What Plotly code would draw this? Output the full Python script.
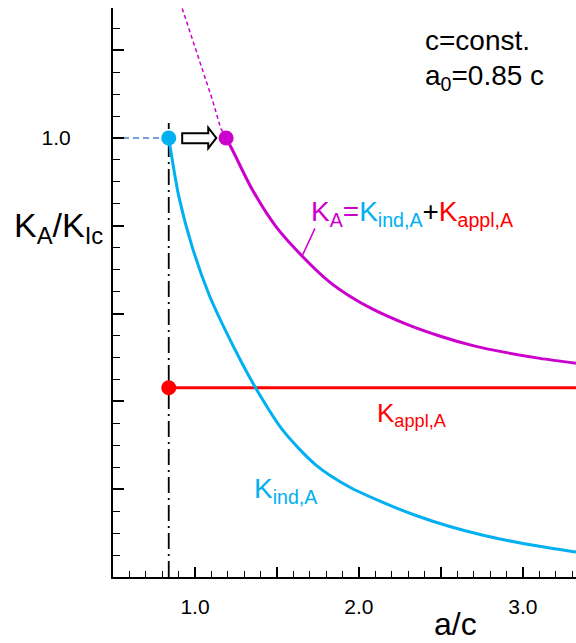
import plotly.graph_objects as go

# ---- data ----
a0 = 0.84
k_appl = 0.431

a_ind = [0.840, 0.902, 0.983, 1.086, 1.188, 1.280, 1.371, 1.534, 1.738, 1.942,
         2.146, 2.348, 2.554, 2.758, 2.962, 3.165, 3.324]
k_ind = [1.000, 0.866, 0.752, 0.643, 0.560, 0.492, 0.430, 0.335, 0.255, 0.205,
         0.170, 0.140, 0.115, 0.095, 0.079, 0.066, 0.057]

a_sum = [1.190, 1.228, 1.350, 1.494, 1.656, 1.820, 1.942, 2.084, 2.289,
         2.492, 2.696, 2.900, 3.104, 3.324]
k_sum = [1.000, 0.973, 0.882, 0.798, 0.730, 0.672, 0.640, 0.610, 0.576,
         0.549, 0.527, 0.511, 0.498, 0.487]

a_sum_ext = [0.922, 1.004, 1.106, 1.157, 1.190]
k_sum_ext = [1.295, 1.200, 1.087, 1.022, 1.000]

a_appl = [a0, 3.324]
k_appl_line = [k_appl, k_appl]

x_tickvals = [0.5, 1.0, 1.5, 2.0, 2.5, 3.0]
x_ticktext = ["", "1.0", "", "2.0", "", "3.0"]
y_tickvals = [0.0, 0.2, 0.4, 0.6, 0.8, 1.0, 1.2]
y_ticktext = ["", "", "", "", "", "1.0", ""]

BLUE = "#00b0f0"
MAG = "#cc00cc"
RED = "#ff0000"
FONT = "Liberation Sans, Arial, sans-serif"

fig = go.Figure()

# horizontal dashed guide at K=1
fig.add_trace(go.Scatter(x=[0.5, a0], y=[1.0, 1.0], mode="lines",
                         line=dict(color="#4f7fd0", width=1.5, dash="6px,4px"),
                         hoverinfo="skip", showlegend=False))
# vertical dash-dot line at a0
fig.add_trace(go.Scatter(x=[a0, a0], y=[0, 1.034], mode="lines",
                         line=dict(color="black", width=1.8, dash="16px,5px,2px,5px"),
                         hoverinfo="skip", showlegend=False))
# dotted continuation of K_A
fig.add_trace(go.Scatter(x=a_sum_ext, y=k_sum_ext, mode="lines",
                         line=dict(color=MAG, width=1.5, dash="4px,3px"),
                         showlegend=False))
# K_appl,A
fig.add_trace(go.Scatter(x=a_appl, y=k_appl_line, mode="lines",
                         line=dict(color=RED, width=3), showlegend=False))
# K_ind,A
fig.add_trace(go.Scatter(x=a_ind, y=k_ind, mode="lines",
                         line=dict(color=BLUE, width=3, shape="spline", smoothing=0.8),
                         showlegend=False))
# K_A
fig.add_trace(go.Scatter(x=a_sum, y=k_sum, mode="lines",
                         line=dict(color=MAG, width=3, shape="spline", smoothing=0.8),
                         showlegend=False))
# points
fig.add_trace(go.Scatter(x=[a0], y=[k_appl], mode="markers",
                         marker=dict(color=RED, size=15), showlegend=False))
fig.add_trace(go.Scatter(x=[a0], y=[k_ind[0]], mode="markers",
                         marker=dict(color=BLUE, size=15), showlegend=False))
fig.add_trace(go.Scatter(x=[a_sum[0]], y=[k_sum[0]], mode="markers",
                         marker=dict(color=MAG, size=15), showlegend=False))

# hollow block arrow
arrow = ("M 0.922 1.0107 L 1.081 1.0107 L 1.081 1.0235 L 1.130 1.0 "
         "L 1.081 0.9765 L 1.081 0.988 L 0.922 0.988 Z")
fig.add_shape(type="path", path=arrow, xref="x", yref="y",
              line=dict(color="black", width=2), fillcolor="white")
# leader line for K_A label
fig.add_shape(type="line", x0=1.732, y0=0.794, x1=1.656, y1=0.733,
              xref="x", yref="y", line=dict(color=MAG, width=1.5))

ann = []
ann.append(dict(x=2.388, y=1.223, xref="x", yref="y", xanchor="left", yanchor="middle",
                text="c=const.", showarrow=False, font=dict(size=28, color="black")))
ann.append(dict(x=2.388, y=1.137, xref="x", yref="y", xanchor="left", yanchor="middle",
                text="a<sub>0</sub>=0.85 c", showarrow=False, font=dict(size=28, color="black")))
ann.append(dict(x=1.697, y=0.828, xref="x", yref="y", xanchor="left", yanchor="middle",
                text=(f"<span style='color:{MAG}'>K<sub>A</sub>=</span>"
                      f"<span style='color:{BLUE}'>K<sub>ind,A</sub></span>"
                      f"<span style='color:black'>+</span>"
                      f"<span style='color:{RED}'>K<sub>appl,A</sub></span>"),
                showarrow=False, font=dict(size=28, color=MAG)))
ann.append(dict(x=2.095, y=0.369, xref="x", yref="y", xanchor="left", yanchor="middle",
                text="K<sub>appl,A</sub>", showarrow=False, font=dict(size=26, color=RED)))
ann.append(dict(x=1.349, y=0.198, xref="x", yref="y", xanchor="left", yanchor="middle",
                text="K<sub>ind,A</sub>", showarrow=False, font=dict(size=28, color=BLUE)))
ann.append(dict(x=-0.017, y=0.615, xref="paper", yref="paper", xanchor="right", yanchor="middle",
                text="K<sub>A</sub>/K<sub>Ic</sub>", showarrow=False, font=dict(size=34, color="black")))
ann.append(dict(x=0.739, y=-0.083, xref="paper", yref="paper", xanchor="center", yanchor="middle",
                text="a/c", showarrow=False, font=dict(size=32, color="black")))

fig.update_layout(
    width=576, height=643,
    margin=dict(l=113, r=0, t=8, b=66),
    paper_bgcolor="white", plot_bgcolor="white",
    font=dict(family=FONT, color="black", size=20),
    annotations=ann,
    xaxis=dict(range=[0.5, 3.324], showgrid=False, zeroline=False,
               showline=True, linecolor="black", linewidth=2,
               tickmode="array", tickvals=x_tickvals, ticktext=x_ticktext,
               ticks="inside", ticklen=10, tickwidth=2, tickcolor="black",
               tickfont=dict(size=21, family=FONT, color="black"), ticklabelstandoff=10,
               minor=dict(tickmode="linear", tick0=0.5, dtick=0.1, ticks="inside",
                          ticklen=6, tickwidth=1, tickcolor="black", showgrid=False)),
    yaxis=dict(range=[0, 1.296], showgrid=False, zeroline=False,
               showline=True, linecolor="black", linewidth=2,
               tickmode="array", tickvals=y_tickvals, ticktext=y_ticktext,
               ticks="inside", ticklen=11, tickwidth=2, tickcolor="black",
               tickfont=dict(size=21, family=FONT, color="black"), ticklabelstandoff=36,
               minor=dict(tickmode="linear", tick0=0, dtick=0.05, ticks="inside",
                          ticklen=7, tickwidth=1, tickcolor="black", showgrid=False)),
)

fig.write_html("out.html", config={"displayModeBar": False},
               post_script="document.body.style.margin='0';document.body.style.overflow='hidden';")
